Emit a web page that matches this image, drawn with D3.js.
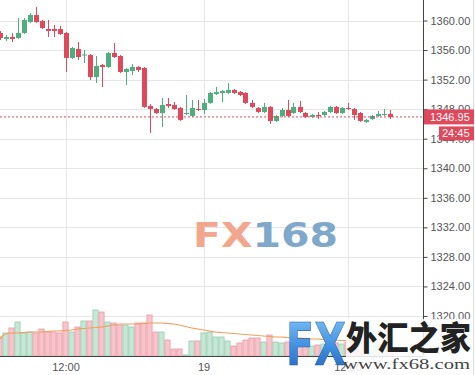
<!DOCTYPE html>
<html>
<head>
<meta charset="utf-8">
<script src="https://cdn.jsdelivr.net/npm/d3@7/dist/d3.min.js"></script>
<style>
  body { margin: 0; background: #fff; }
  svg text { font-family: "Liberation Sans", Arial, sans-serif; }
  .grid line { stroke: #e6e6e6; stroke-width: 1; }
  .yaxis text, .xaxis text { fill: #555; font-size: 11px; }
  .yaxis line { stroke: #444; }
</style>
</head>
<body>
<div id="chart"></div>
<script>
// kerzen-daten (30 min), von links nach rechts
const opens  = [1358.31,1357.50,1357.77,1357.63,1358.31,1359.80,1360.74,1359.93,1358.85,1358.85,1358.85,1358.31,1354.93,1356.14,1355.33,1355.33,1352.35,1353.98,1353.71,1355.60,1355.20,1353.03,1353.17,1353.71,1353.57,1348.43,1348.02,1347.48,1348.70,1348.57,1348.16,1347.35,1347.08,1348.02,1347.89,1348.84,1350.05,1350.19,1350.19,1350.60,1350.32,1350.19,1348.84,1348.16,1347.62,1348.30,1346.40,1347.08,1347.89,1347.48,1348.30,1347.48,1346.94,1347.21,1347.21,1347.62,1348.30,1347.48,1348.16,1348.02,1347.48,1346.27,1346.67,1347.08,1347.21,1347.35];
const highs  = [1358.58,1358.04,1358.31,1360.34,1360.34,1361.01,1361.83,1360.07,1360.07,1359.39,1359.26,1358.44,1356.41,1357.09,1356.01,1355.47,1355.20,1354.11,1355.74,1356.96,1355.33,1353.57,1354.11,1353.84,1353.71,1348.70,1348.16,1349.51,1349.51,1348.97,1348.30,1349.92,1349.24,1349.24,1349.38,1350.32,1351.00,1350.60,1351.54,1350.73,1350.46,1350.32,1349.24,1348.30,1348.84,1348.43,1347.21,1348.16,1349.24,1348.84,1349.11,1347.62,1347.35,1347.62,1347.75,1348.43,1348.43,1348.30,1348.84,1348.16,1347.62,1346.67,1347.21,1347.75,1348.02,1347.89];
const lows   = [1357.36,1357.23,1357.09,1357.50,1358.17,1359.66,1359.66,1358.85,1357.77,1357.77,1358.04,1353.03,1354.79,1354.66,1354.25,1351.95,1351.54,1351.00,1353.57,1354.93,1352.90,1351.27,1352.62,1353.03,1348.16,1344.78,1347.35,1345.59,1348.16,1347.89,1346.40,1347.21,1346.94,1347.75,1347.35,1348.70,1349.92,1348.97,1350.05,1350.05,1349.78,1348.70,1348.16,1347.48,1347.48,1346.00,1346.27,1346.94,1346.94,1347.35,1347.48,1346.81,1346.81,1346.67,1347.08,1347.48,1347.35,1347.35,1347.89,1346.54,1346.27,1346.13,1346.54,1346.94,1347.08,1346.67];
const closes = [1357.63,1357.77,1357.50,1358.31,1360.07,1360.74,1359.80,1358.99,1358.58,1358.58,1358.17,1354.93,1356.28,1355.06,1355.40,1352.35,1353.84,1353.71,1355.60,1355.06,1353.03,1353.44,1353.71,1353.30,1348.30,1348.02,1347.48,1348.57,1348.43,1348.02,1346.54,1347.48,1348.16,1347.89,1348.84,1350.19,1350.32,1350.46,1350.60,1350.19,1349.92,1348.84,1348.30,1347.62,1348.30,1346.40,1347.08,1347.89,1347.08,1348.30,1347.62,1346.94,1347.21,1347.08,1347.62,1348.30,1347.48,1348.16,1348.02,1347.21,1346.40,1346.54,1347.08,1347.35,1347.35,1346.95];

// volumen und gleitender durchschnitt
const volumes = [19,23,28,34,23,24,23,27,24,24,23,34,24,29,35,35,46,44,34,33,31,31,29,33,33,41,24,24,16,7,7,1,15,15,23,24,19,19,15,10,13,16,18,18,14,21,14,13,14,12,16,12,10,11,12,15,13,12,14,16,14,12,11,13,10,9];
const volMA   = [17,22,23,23,23.5,24,24,24,24.5,25,25,25.5,26,27,27.5,28,28.5,29,30,31,32,32,32,32,32.5,33,33,33,32.5,32,31,29.5,28,27,26,25,24,23.5,23,22.5,22,21.5,21,20.5,20,19.5,19,19,18.5,18,18,17.5,17,17,16.5,16,16,15.5,15.5,15,15,14.5,14.5,14,14,14];

// achsen
const yTicks = [1320,1324,1328,1332,1336,1340,1344,1348,1352,1356,1360];
const xTickIdx = [11, 34, 58];
const xTickLabels = ["12:00", "19", "12:00"];
const lastPrice = "1346.95";
const countdown = "24:45";

const width = 475, height = 375;
const axisX = 423, axisY = 356;
const red = "#e0485c", green = "#4fae7e";

const svg = d3.select("#chart").append("svg")
  .attr("width", width)
  .attr("height", height);

const x = d3.scaleLinear().domain([0, 65]).range([-0.5, 389.5]);
const y = d3.scaleLinear().domain([1320, 1360]).range([316, 20.5]);
const yv = d3.scaleLinear().domain([0, 50]).range([axisY, axisY - 50]);

// gitternetz
const grid = svg.append("g").attr("class", "grid");
grid.selectAll(".h").data(yTicks).enter().append("line")
  .attr("x1", 0).attr("x2", axisX)
  .attr("y1", d => Math.round(y(d)) + 0.5).attr("y2", d => Math.round(y(d)) + 0.5);
grid.selectAll(".v").data(xTickIdx).enter().append("line")
  .attr("x1", d => Math.round(x(d)) + 0.5).attr("x2", d => Math.round(x(d)) + 0.5)
  .attr("y1", 0).attr("y2", axisY);

// wasserzeichen FX168
const wm = svg.append("text")
  .attr("x", 193).attr("y", 247)
  .style("font-family", "'DejaVu Sans', sans-serif")
  .style("font-weight", "bold")
  .style("font-size", "33px")
  .attr("textLength", 145)
  .attr("lengthAdjust", "spacingAndGlyphs");
wm.append("tspan").attr("fill", "#f3a68e").text("FX");
wm.append("tspan").attr("fill", "#80a8ca").text("168");

// volumen balken
const vol = svg.append("g");
vol.selectAll("rect").data(volumes).enter().append("rect")
  .attr("x", (d, i) => x(i) - 2.6)
  .attr("width", 5.2)
  .attr("y", d => yv(d))
  .attr("height", d => axisY - yv(d))
  .attr("fill", (d, i) => closes[i] >= opens[i] ? "#c6e7d6" : "#f7c4cb")
  .attr("stroke", (d, i) => closes[i] >= opens[i] ? "#93cdb0" : "#eb9aa6")
  .attr("stroke-width", 0.8);

const maLine = d3.line().x((d, i) => x(i)).y(d => yv(d)).curve(d3.curveMonotoneX);
svg.append("path")
  .datum(volMA)
  .attr("d", maLine)
  .attr("fill", "none")
  .attr("stroke", "#f0a060")
  .attr("stroke-width", 1.2);

// kerzen
const candles = svg.append("g");
candles.selectAll("line").data(closes).enter().append("line")
  .attr("x1", (d, i) => Math.round(x(i)) + 0.5)
  .attr("x2", (d, i) => Math.round(x(i)) + 0.5)
  .attr("y1", (d, i) => y(highs[i]))
  .attr("y2", (d, i) => y(lows[i]))
  .attr("stroke", (d, i) => d >= opens[i] ? green : red)
  .attr("stroke-width", 1);
candles.selectAll("rect").data(closes).enter().append("rect")
  .attr("x", (d, i) => Math.round(x(i)) - 2)
  .attr("width", 5)
  .attr("y", (d, i) => y(Math.max(d, opens[i])))
  .attr("height", (d, i) => Math.max(1, Math.abs(y(d) - y(opens[i]))))
  .attr("fill", (d, i) => d >= opens[i] ? green : red);

// aktuelle preislinie
svg.append("line")
  .attr("x1", 0).attr("x2", axisX)
  .attr("y1", y(+lastPrice)).attr("y2", y(+lastPrice))
  .attr("stroke", red)
  .attr("stroke-width", 1)
  .attr("stroke-dasharray", "2,2");

// rechte achse
const yAxis = svg.append("g")
  .attr("class", "yaxis")
  .attr("transform", `translate(${axisX + 0.5},0)`)
  .call(d3.axisRight(y).tickValues(yTicks).tickFormat(d3.format(".2f")).tickSize(4).tickSizeOuter(0).tickPadding(3));
yAxis.select(".domain").remove();

// untere achse
const xAxis = svg.append("g")
  .attr("class", "xaxis")
  .attr("transform", `translate(0,${axisY})`)
  .call(d3.axisBottom(x).tickValues(xTickIdx).tickFormat((d, i) => xTickLabels[i]).tickSize(0).tickPadding(7));
xAxis.select(".domain").remove();

svg.append("line")
  .attr("x1", axisX + 0.5).attr("x2", axisX + 0.5)
  .attr("y1", 0).attr("y2", axisY)
  .attr("stroke", "#444");
svg.append("line")
  .attr("x1", 0).attr("x2", axisX)
  .attr("y1", axisY + 0.5).attr("y2", axisY + 0.5)
  .attr("stroke", "#444");
svg.append("line")
  .attr("x1", 473.5).attr("x2", 473.5)
  .attr("y1", 0).attr("y2", height)
  .attr("stroke", "#ddd");

// preis-label
const py = y(+lastPrice);
svg.append("rect")
  .attr("x", axisX + 1).attr("y", py - 7.5)
  .attr("width", 50).attr("height", 15)
  .attr("fill", red);
svg.append("text")
  .attr("x", 430).attr("y", py)
  .attr("dy", "0.35em")
  .attr("fill", "#fff")
  .style("font-size", "11px")
  .text(lastPrice);
svg.append("rect")
  .attr("x", 439).attr("y", py + 9.5)
  .attr("width", 35).attr("height", 14)
  .attr("fill", red);
svg.append("text")
  .attr("x", 442).attr("y", py + 16.5)
  .attr("dy", "0.35em")
  .attr("fill", "#fff")
  .style("font-size", "11px")
  .text(countdown);

// logo unten rechts
const defs = svg.append("defs");
const grad = defs.append("linearGradient")
  .attr("id", "fxgrad").attr("x1", 0).attr("y1", 0).attr("x2", 0).attr("y2", 1);
grad.append("stop").attr("offset", "0%").attr("stop-color", "#86c8f7");
grad.append("stop").attr("offset", "55%").attr("stop-color", "#3e8ee0");
grad.append("stop").attr("offset", "100%").attr("stop-color", "#1f5cb5");

svg.append("rect")
  .attr("x", 346).attr("y", 319)
  .attr("width", 127).attr("height", 56)
  .attr("fill", "#fff")
  .attr("opacity", 0.85);

svg.append("text")
  .attr("x", 286).attr("y", 365)
  .style("font-family", "'DejaVu Sans', sans-serif")
  .style("font-weight", "bold")
  .style("font-size", "59px")
  .attr("textLength", 60)
  .attr("lengthAdjust", "spacingAndGlyphs")
  .attr("fill", "url(#fxgrad)")
  .attr("stroke", "#2b5fa8")
  .attr("stroke-width", 0.6)
  .text("FX");

svg.append("text")
  .attr("x", 346).attr("y", 350)
  .style("font-family", "'Noto Sans CJK SC', sans-serif")
  .style("font-weight", "900")
  .style("font-size", "33px")
  .attr("textLength", 125)
  .attr("lengthAdjust", "spacingAndGlyphs")
  .attr("fill", "#222")
  .text("外汇之家");

svg.append("text")
  .attr("x", 343).attr("y", 369)
  .style("font-family", "'Liberation Serif', 'DejaVu Serif', serif")
  .style("font-size", "15px")
  .attr("textLength", 127)
  .attr("lengthAdjust", "spacingAndGlyphs")
  .attr("fill", "#444")
  .text("www.fx68.com");
</script>
</body>
</html>
